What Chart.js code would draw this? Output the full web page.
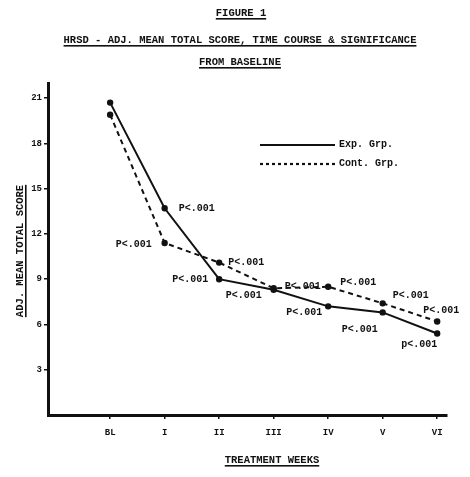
<!DOCTYPE html>
<html>
<head>
<meta charset="utf-8">
<script src="https://cdn.jsdelivr.net/npm/chart.js@4"></script>
<style>
  html, body { margin: 0; padding: 0; background: #fff; }
  canvas { display: block; }
</style>
</head>
<body>
<canvas id="hrsdChart" width="470" height="477"></canvas>
<script>
// HRSD figure: two groups, adjusted mean total score per treatment week.
const WEEK_LABELS = ["BL", "I", "II", "III", "IV", "V", "VI"];
const Y_TICKS = [3, 6, 9, 12, 15, 18, 21];
const SERIES_NAMES = ["Exp. Grp.", "Cont. Grp."];
const EXP_SCORES = [20.7, 13.7, 9.0, 8.3, 7.2, 6.8, 5.4];
const CONT_SCORES = [19.9, 11.4, 10.1, 8.4, 8.5, 7.4, 6.2];
const EXP_PVALUES = ["", "P<.001", "P<.001", "P<.001", "P<.001", "P<.001", "p<.001"];
const CONT_PVALUES = ["", "P<.001", "P<.001", "P<.001", "P<.001", "P<.001", "P<.001"];
const TITLE_LINES = ["FIGURE 1", "HRSD - ADJ. MEAN TOTAL SCORE, TIME COURSE & SIGNIFICANCE", "FROM BASELINE"];
const Y_TITLE = "ADJ. MEAN TOTAL SCORE";
const X_TITLE = "TREATMENT WEEKS";

const INK = "#111";
const MONO = "'Liberation Mono', 'DejaVu Sans Mono', monospace";

// where each p-value sits relative to its point: [dx, dy, align]
const EXP_LABEL_POS = [null, [14, 0, "left"], [-11, 0, "right"], [-12, 6, "right"], [-6, 6, "right"], [-5, 17, "right"], [0, 11, "right"]];
const CONT_LABEL_POS = [null, [-13, 2, "right"], [9, 0, "left"], [11, -2, "left"], [12, -4, "left"], [10, -8, "left"], [-14, -11, "left"]];

function toPoints(values) {
  return values.map((v, i) => ({ x: i, y: v }));
}

function underlinedText(ctx, text, x, y, size) {
  ctx.font = `bold ${size}px ${MONO}`;
  ctx.textAlign = "center";
  ctx.textBaseline = "alphabetic";
  ctx.fillText(text, x, y);
  const w = ctx.measureText(text).width;
  ctx.fillRect(x - w / 2, y + 2, w, 1.6);
}

const decorPlugin = {
  id: "decor",
  afterDatasetsDraw(chart) {
    const ctx = chart.ctx;
    const xs = chart.scales.x, ys = chart.scales.y;
    ctx.save();
    ctx.fillStyle = INK;
    ctx.strokeStyle = INK;

    // titles
    underlinedText(ctx, TITLE_LINES[0], 241, 16, 10.5);
    underlinedText(ctx, TITLE_LINES[1], 240, 43, 10.5);
    underlinedText(ctx, TITLE_LINES[2], 240, 65, 10.5);
    underlinedText(ctx, X_TITLE, 272, 463, 10.5);

    ctx.save();
    ctx.translate(23, 251);
    ctx.rotate(-Math.PI / 2);
    underlinedText(ctx, Y_TITLE, 0, 0, 10.5);
    ctx.restore();

    // p-value annotations
    ctx.font = `bold 10px ${MONO}`;
    ctx.textBaseline = "middle";
    const annotate = (values, labels, pos) => {
      values.forEach((v, i) => {
        if (!labels[i] || !pos[i]) return;
        const [dx, dy, align] = pos[i];
        ctx.textAlign = align;
        ctx.fillText(labels[i], xs.getPixelForValue(i) + dx, ys.getPixelForValue(v) + dy);
      });
    };
    annotate(EXP_SCORES, EXP_PVALUES, EXP_LABEL_POS);
    annotate(CONT_SCORES, CONT_PVALUES, CONT_LABEL_POS);

    // legend
    const legendRows = [
      { y: 145, dash: [], name: SERIES_NAMES[0] },
      { y: 164, dash: [3, 3], name: SERIES_NAMES[1] },
    ];
    ctx.font = `bold 10px ${MONO}`;
    ctx.textAlign = "left";
    legendRows.forEach((r) => {
      ctx.setLineDash(r.dash);
      ctx.lineWidth = 2.2;
      ctx.beginPath();
      ctx.moveTo(260, r.y);
      ctx.lineTo(335, r.y);
      ctx.stroke();
      ctx.setLineDash([]);
      ctx.fillText(r.name, 339, r.y - 1);
    });
    ctx.restore();
  },
};

new Chart(document.getElementById("hrsdChart"), {
  type: "line",
  data: {
    datasets: [
      {
        label: SERIES_NAMES[0],
        data: toPoints(EXP_SCORES),
        borderColor: INK,
        backgroundColor: INK,
        borderWidth: 2,
        pointRadius: 2.2,
        tension: 0,
      },
      {
        label: SERIES_NAMES[1],
        data: toPoints(CONT_SCORES),
        borderColor: INK,
        backgroundColor: INK,
        borderWidth: 2,
        borderDash: [5, 4],
        pointRadius: 2.2,
        tension: 0,
      },
    ],
  },
  options: {
    responsive: false,
    animation: false,
    devicePixelRatio: 1,
    layout: { padding: { top: 83, right: 23, bottom: 0, left: 0 } },
    plugins: { legend: { display: false }, title: { display: false }, tooltip: { enabled: false } },
    scales: {
      x: {
        type: "linear",
        min: -1.14,
        max: 6.18,
        afterBuildTicks: (scale) => { scale.ticks = WEEK_LABELS.map((_, i) => ({ value: i })); },
        afterFit: (scale) => { scale.height = 62; },
        ticks: {
          color: INK,
          padding: 8,
          font: { family: MONO, size: 9, weight: "bold" },
          callback: (v) => WEEK_LABELS[v] ?? "",
        },
        grid: { drawOnChartArea: false, color: INK, tickLength: 4, lineWidth: 1.5 },
        border: { display: true, color: INK, width: 3 },
      },
      y: {
        min: 0,
        max: 22,
        afterBuildTicks: (scale) => { scale.ticks = Y_TICKS.map((v) => ({ value: v })); },
        afterFit: (scale) => { scale.width = 48; },
        ticks: {
          color: INK,
          padding: 2,
          font: { family: MONO, size: 9, weight: "bold" },
        },
        grid: { drawOnChartArea: false, color: INK, tickLength: 4, lineWidth: 1.5 },
        border: { display: true, color: INK, width: 3 },
      },
    },
  },
  plugins: [decorPlugin],
});
</script>
</body>
</html>
